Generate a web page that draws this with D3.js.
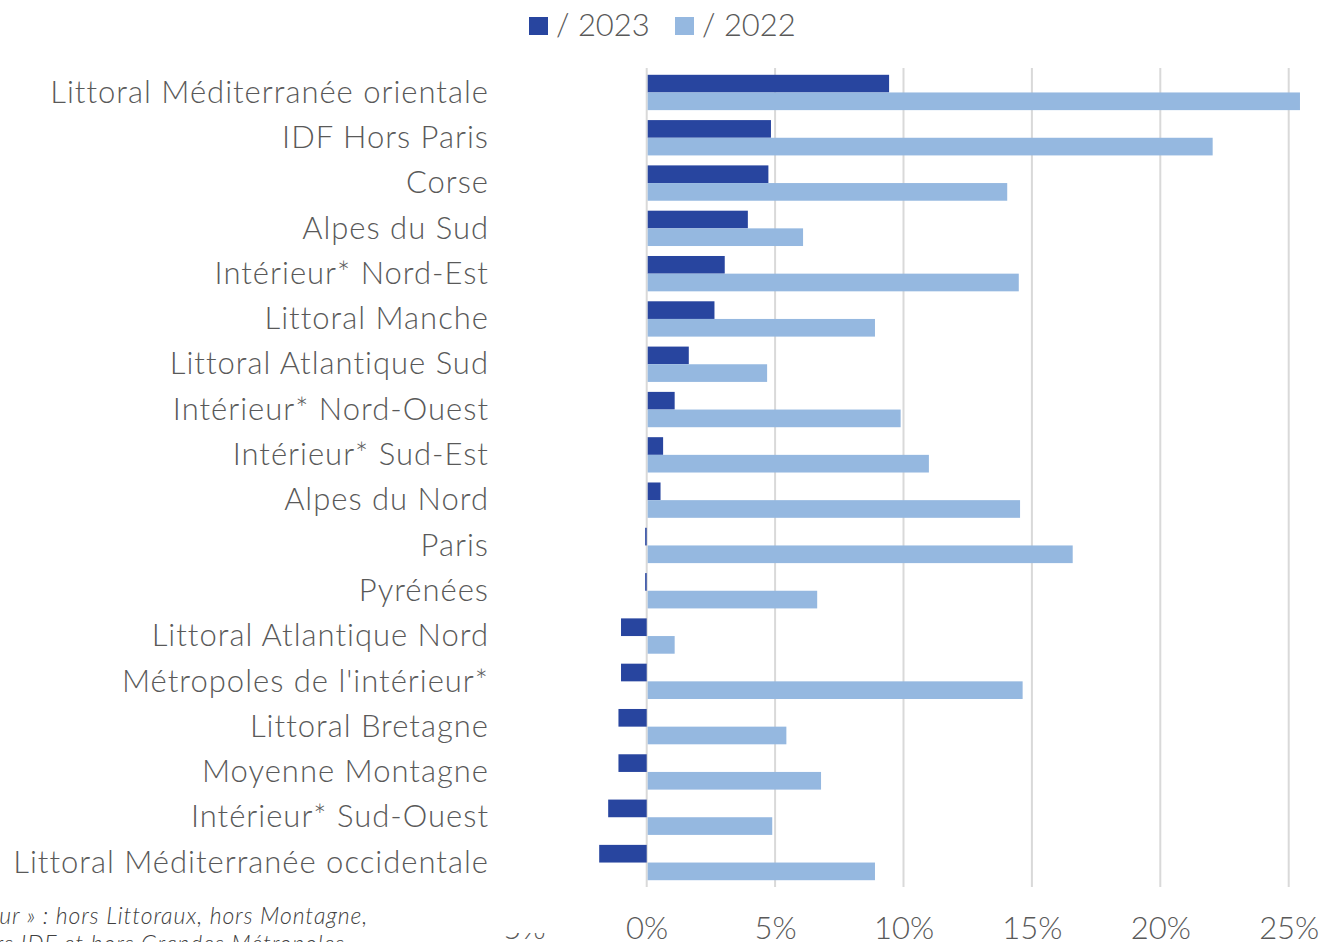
<!DOCTYPE html>
<html>
<head>
<meta charset="utf-8">
<script src="https://cdn.jsdelivr.net/npm/d3@7"></script>
<style>
  body { margin: 0; background: #fff; }
  svg { display: block; font-family: "Lato", "Open Sans", sans-serif; }
</style>
</head>
<body>
<svg></svg>
<script>
// Data
const categories = [
  "Littoral Méditerranée orientale", "IDF Hors Paris", "Corse", "Alpes du Sud",
  "Intérieur* Nord-Est", "Littoral Manche", "Littoral Atlantique Sud",
  "Intérieur* Nord-Ouest", "Intérieur* Sud-Est", "Alpes du Nord", "Paris",
  "Pyrénées", "Littoral Atlantique Nord", "Métropoles de l'intérieur*",
  "Littoral Bretagne", "Moyenne Montagne", "Intérieur* Sud-Ouest",
  "Littoral Méditerranée occidentale"
];
const vs2023 = [9.4, 4.8, 4.7, 3.9, 3.0, 2.6, 1.6, 1.05, 0.6, 0.5, -0.06, -0.06,
  -1.0, -1.0, -1.1, -1.1, -1.5, -1.85];
const vs2022 = [25.4, 22.0, 14.0, 6.05, 14.45, 8.85, 4.65, 9.85, 10.95, 14.5, 16.55, 6.6,
  1.05, 14.6, 5.4, 6.75, 4.85, 8.85];
const seriesNames = ["/ 2023", "/ 2022"];
const xTicks = [-5, 0, 5, 10, 15, 20, 25];
const gridTicks = [0, 5, 10, 15, 20, 25];
const footnote = ["« Intérieur » : hors Littoraux, hors Montagne,", "hors IDF et hors Grandes Métropoles"];

const width = 1324;
const height = 942;
const colors = ["#28459f", "#95b8e0"];
const textColor = "#595959";

const svg = d3.select("svg")
  .attr("width", width)
  .attr("height", height);

const x = d3.scaleLinear().domain([-5, 25]).range([518.3, 1288.7]);
const y = d3.scaleBand().domain(categories).range([68, 887]).paddingInner(0.22).paddingOuter(0.15);
const sub = d3.scaleBand().domain([0, 1]).range([0, y.bandwidth()]);

// Gridlines
svg.append("g")
  .selectAll("line")
  .data(gridTicks)
  .join("line")
  .attr("x1", d => x(d)).attr("x2", d => x(d))
  .attr("y1", 68).attr("y2", 887)
  .attr("stroke", "#d9d9d9")
  .attr("stroke-width", 2);

// Bars
const rows = categories.map((c, i) => ({ c, vals: [vs2023[i], vs2022[i]] }));
const groups = svg.append("g")
  .selectAll("g")
  .data(rows)
  .join("g")
  .attr("transform", d => `translate(0,${y(d.c)})`);

groups.selectAll("rect")
  .data(d => d.vals.map((v, k) => ({ v, k })))
  .join("rect")
  .attr("x", d => x(Math.min(0, d.v)) + (d.v >= 0 ? 1 : 0))
  .attr("width", d => Math.max(1.5, Math.abs(x(d.v) - x(0))))
  .attr("y", d => sub(d.k))
  .attr("height", sub.bandwidth())
  .attr("fill", d => colors[d.k]);

// Category labels
svg.append("g")
  .selectAll("text")
  .data(categories)
  .join("text")
  .attr("x", 489)
  .attr("y", d => y(d) + y.bandwidth() / 2)
  .attr("dy", "0.33em")
  .attr("text-anchor", "end")
  .attr("fill", textColor)
  .style("font-size", "31px")
  .style("font-weight", 300)
  .style("letter-spacing", "1px")
  .text(d => d);

// X axis labels
const axis = svg.append("g")
  .attr("transform", "translate(0,939)")
  .call(d3.axisBottom(x).tickValues(xTicks).tickSize(0).tickPadding(0).tickFormat(d => d + "%"));
axis.select(".domain").remove();
axis.selectAll("text")
  .attr("dy", 0)
  .attr("y", 0)
  .attr("fill", textColor)
  .style("font-family", "Lato, sans-serif")
  .style("font-size", "31px")
  .style("font-weight", 300);

// Footnote box (covers part of the axis)
svg.append("rect")
  .attr("x", 0).attr("y", 895)
  .attr("width", 560).attr("height", 38)
  .attr("fill", "#fff");
svg.append("g")
  .selectAll("text")
  .data(footnote)
  .join("text")
  .attr("x", (d, i) => i === 0 ? 368 : 345)
  .attr("y", (d, i) => 924 + i * 28)
  .attr("text-anchor", "end")
  .attr("fill", "#404040")
  .style("font-size", "23px")
  .style("font-style", "italic")
  .style("font-weight", 300)
  .style("letter-spacing", "0.9px")
  .text(d => d);

// Legend
const legend = svg.append("g");
const legendX = [529, 675];
seriesNames.forEach((name, i) => {
  legend.append("rect")
    .attr("x", legendX[i]).attr("y", 17)
    .attr("width", 19).attr("height", 18)
    .attr("fill", colors[i]);
  legend.append("text")
    .attr("x", legendX[i] + 27).attr("y", 36)
    .attr("fill", textColor)
    .style("font-size", "31px")
    .style("font-weight", 300)
    .text(name);
});
</script>
</body>
</html>
